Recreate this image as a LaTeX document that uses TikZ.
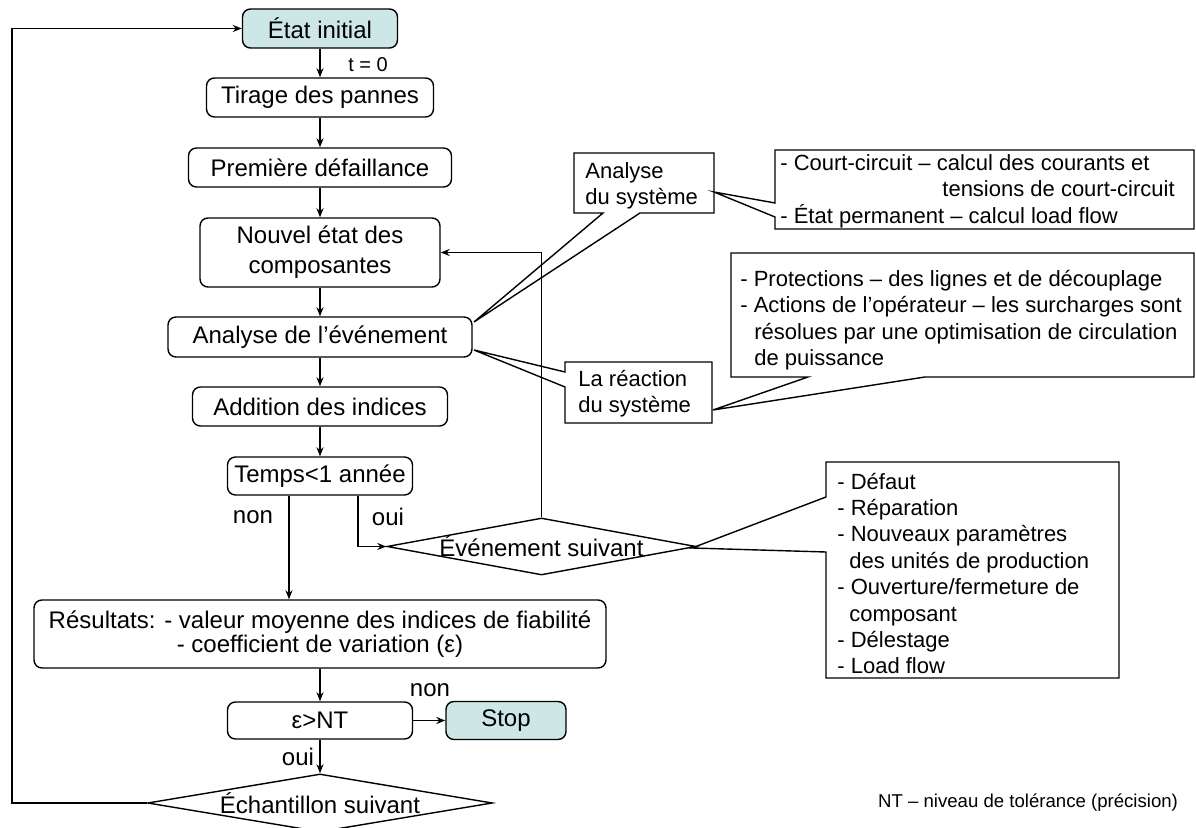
\documentclass[tikz,border=0pt]{standalone}
\usepackage{fontspec}
\setmainfont{Liberation Sans}
\usetikzlibrary{arrows.meta,shapes.geometric}
\definecolor{startfill}{RGB}{205,230,230}

\begin{document}
\begin{tikzpicture}[x=0.5pt,y=-0.5pt,
  stepbox/.style={draw, line width=0.7pt, rounded corners=4pt, inner sep=1pt,
    font=\fontsize{12}{15}\selectfont, align=center},
  startbox/.style={stepbox, fill=startfill},
  choice/.style={draw, line width=0.7pt, diamond, inner sep=0pt},
  choicetext/.style={font=\fontsize{12}{14}\selectfont, inner sep=0pt},
  callout/.style={draw, line width=0.7pt},
  calltext/.style={font=\fontsize{11}{13.2}\selectfont, align=left, inner sep=0pt, anchor=west},
  tag/.style={font=\fontsize{12}{14}\selectfont, inner sep=0pt},
  flow/.style={line width=0.7pt, -{Stealth[length=4.5pt,width=3.5pt]}}]
\useasboundingbox (0,0) rectangle (1196,828);
%MAIN COLUMN
\node[startbox, minimum width=77.5pt, minimum height=19.5pt] (start) at (320,28.5) {État initial};
\node[stepbox, minimum width=113.5pt, minimum height=19.5pt] (faults) at (320,97.5) {Tirage des pannes};
\node[stepbox, minimum width=131.5pt, minimum height=19.5pt] (first) at (320,167.5) {Première défaillance};
\node[stepbox, minimum width=120pt, minimum height=34.5pt] (state) at (320,252.5) {Nouvel état des\\composantes};
\node[stepbox, minimum width=152pt, minimum height=20pt] (analysis) at (320,337) {Analyse de l’événement};
\node[stepbox, minimum width=127.5pt, minimum height=19.5pt] (indices) at (320,406.5) {Addition des indices};
\node[stepbox, minimum width=92.5pt, minimum height=19pt] (time) at (320,476) {Temps<1 année};
\node[stepbox, minimum width=286pt, minimum height=34pt, font=\fontsize{12}{12}\selectfont] (results) at (320,634)
  {Résultats: - valeur moyenne des indices de fiabilité\\- coefficient de variation (ε)};
\node[stepbox, minimum width=92.5pt, minimum height=18.5pt] (test) at (320,720.5) {ε>NT};
\node[startbox, minimum width=60pt, minimum height=19pt] (stop) at (506,720.5) {Stop};
%DECISIONS
\node[choice, minimum width=154.5pt, minimum height=28.5pt] (event) at (541.5,546.5) {};
\node[choicetext] (eventtext) at (event) {Événement suivant};
\node[choice, minimum width=172.5pt, minimum height=29pt] (sample) at (320,803) {};
\node[choicetext] (sampletext) at (sample) {Échantillon suivant};
%CALLOUTS
\draw[callout] (574,153) -- (714,153) -- (714,213) -- (640,213) -- (474,322) -- (603,213) -- (574,213) -- cycle;
\node[calltext] (sysanalysis) at (585,186) {Analyse\\du système};
\draw[callout] (775,150) -- (1194,150) -- (1194,229) -- (775,229) -- (775,217) -- (714,192) -- (775,203) -- cycle;
\node[calltext] (shortcircuit) at (780,191) {- Court-circuit – calcul des courants et\\\hspace*{81pt}tensions de court-circuit\\- État permanent – calcul load flow};
\draw[callout] (565,362) -- (712,362) -- (712,423) -- (565,423) -- (565,387) -- (474,350) -- (565,372) -- cycle;
\node[calltext] (reaction) at (578,393.5) {La réaction\\du système};
\draw[callout] (731,253) -- (1194,253) -- (1194,377) -- (925,377) -- (713,410) -- (808,377) -- (731,377) -- cycle;
\node[calltext] (protections) at (740,320) {- Protections – des lignes et de découplage\\- Actions de l’opérateur – les surcharges sont\\\hspace*{7pt}résolues par une optimisation de circulation\\\hspace*{7pt}de puissance};
\draw[callout] (826,462) -- (1119,462) -- (1119,678) -- (826,678) -- (826,552) -- (692,548) -- (826,497) -- cycle;
\node[calltext] (eventlist) at (837,573.5) {- Défaut\\- Réparation\\- Nouveaux paramètres\\\hspace*{6pt}des unités de production\\- Ouverture/fermeture de\\\hspace*{6pt}composant\\- Délestage\\- Load flow};
%ARROWS
\draw[flow] (start) -- (faults);
\draw[flow] (faults) -- (first);
\draw[flow] (first) -- (state);
\draw[flow] (state) -- (analysis);
\draw[flow] (analysis) -- (indices);
\draw[flow] (indices) -- (time);
\coordinate (nopath) at ([xshift=-15.5pt]time.south);
\coordinate (yespath) at ([xshift=19pt]time.south);
\draw[flow] (nopath) -- (nopath |- results.north);
\draw[flow] (yespath) |- (event.west);
\draw[flow] (event.north) |- (state.east);
\draw[flow] (results) -- (test);
\draw[flow] (test) -- (stop);
\draw[flow] (test) -- (sample);
\coordinate (loop) at (12,0);
\draw[flow] (sample.west) -- (sample.west -| loop) |- (start.west);
%LABELS
\node[font=\fontsize{10}{11}\selectfont] (tzero) at (368,65) {t = 0};
\node[tag] (timeno) at (253,517) {non};
\node[tag] (timeyes) at (388,517) {oui};
\node[tag] (testno) at (430,690) {non};
\node[tag] (testyes) at (298,757) {oui};
\node[font=\fontsize{9.3}{11}\selectfont, anchor=east] (legend) at (1185,803) {NT – niveau de tolérance (précision)};
\end{tikzpicture}
\end{document}
